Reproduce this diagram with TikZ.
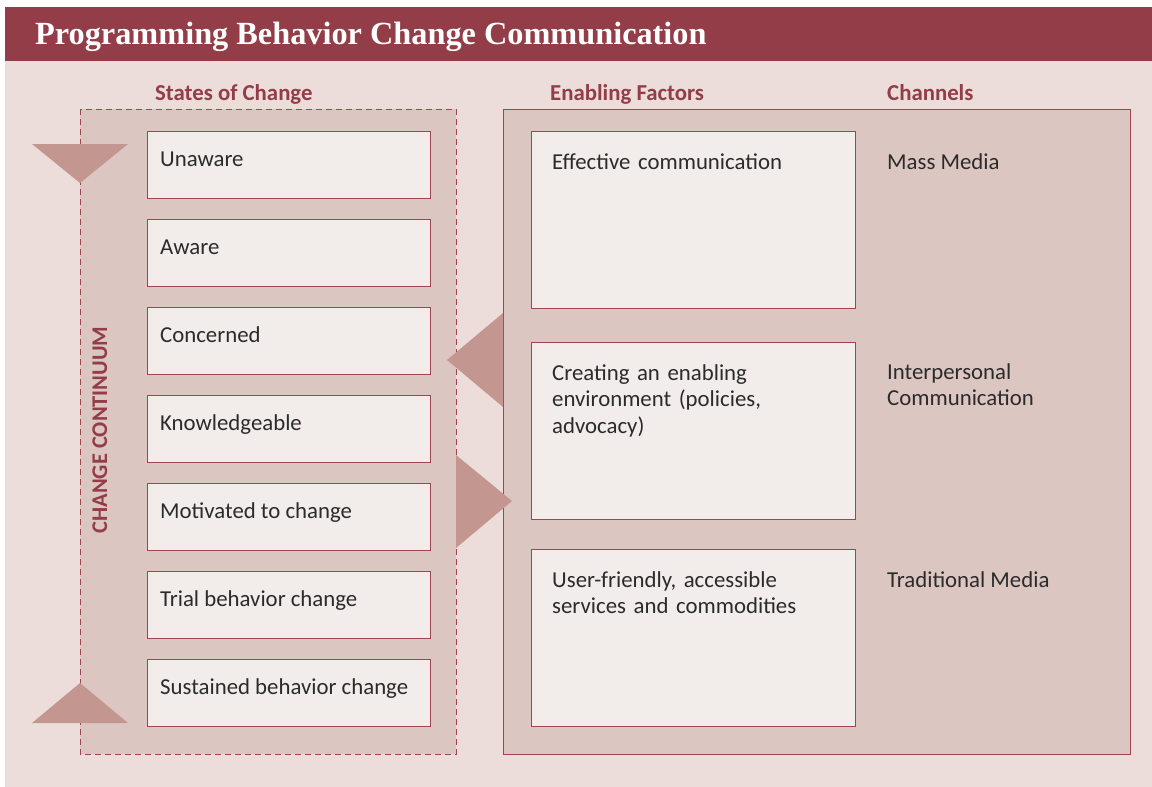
\documentclass[tikz,border=0pt]{standalone}
\usepackage{fontspec}
\setmainfont{Liberation Serif}
\newfontfamily\bodyfont{Carlito}
\usetikzlibrary{positioning,calc}

\definecolor{titlered}{HTML}{923D47}
\definecolor{panel}{HTML}{ECDDDA}
\definecolor{framefill}{HTML}{DCC6C2}
\definecolor{boxfill}{HTML}{F2ECEA}
\definecolor{boxline}{HTML}{A0444F}
\definecolor{wedge}{HTML}{C39790}
\definecolor{bodytext}{HTML}{2B2B2B}

\tikzset{
  bodytxt/.style={font=\bodyfont\fontsize{22.8}{26.5}\selectfont, text=bodytext, inner sep=0pt},
  headtxt/.style={font=\bodyfont\bfseries\fontsize{22.8}{26}\selectfont, text=titlered, inner sep=0pt, anchor=base west},
  statebox/.style={draw=boxline, fill=boxfill, line width=1pt, inner sep=0pt,
    minimum width=283pt, minimum height=67pt, anchor=north west,
    label={[bodytxt, anchor=base west, xshift=13pt, yshift=-35pt]north west:#1}},
  factorbox/.style={draw=boxline, fill=boxfill, line width=1pt, inner sep=0pt,
    minimum width=324pt, minimum height=177pt, anchor=north west,
    label={[bodytxt, anchor=base west, align=left, text width=300pt, xshift=21pt, yshift=-38pt]north west:#1}},
}

\begin{document}
\begin{tikzpicture}[x=1pt,y=-1pt]
  \useasboundingbox (0,0) rectangle (1152,787);
  % Background and title bar
  \fill[panel] (5,7) rectangle (1152,787);
  \fill[titlered] (5,7) rectangle (1152,61);
  \node[font=\bfseries\fontsize{32.3}{36}\selectfont, text=white, inner sep=0pt, anchor=base west]
    (title) at (35,45) {Programming Behavior Change Communication};

  % Column headers
  \node[headtxt] (hstates) at (155,100) {States of Change};
  \node[headtxt] (hfactors) at (550,100) {Enabling Factors};
  \node[headtxt] (hchannels) at (887,100) {Channels};

  % Frames
  \fill[framefill] (80,109) rectangle (456,754);
  \draw[boxline, line width=1pt, dash pattern=on 6pt off 4pt] (80,109) rectangle (456,754);
  \draw[boxline, line width=1pt, fill=framefill] (503,109) rectangle (1130,754);

  % Continuum wedges
  \fill[wedge] (32,144) -- (128,144) -- (80,183) -- cycle;
  \fill[wedge] (32,723) -- (128,723) -- (80,683) -- cycle;
  \fill[wedge] (503,313) -- (503,407) -- (447,360) -- cycle;
  \fill[wedge] (456,455) -- (456,548) -- (512,501) -- cycle;
  \node[headtxt, font=\bodyfont\bfseries\fontsize{22.4}{26}\selectfont, anchor=base, rotate=90]
    (continuum) at (107,430) {CHANGE CONTINUUM};

  % States of change
  \foreach \txt [count=\i] in {Unaware, Aware, Concerned, Knowledgeable,
      Motivated to change, Trial behavior change, Sustained behavior change}
    \node[statebox=\txt] (s\i) at (147,{131+88*(\i-1)}) {};

  % Enabling factors
  \node[factorbox={Effective communication}] (f1) at (531,131) {};
  \node[factorbox={Creating an enabling\\environment (policies,\\advocacy)}] (f2) at (531,342) {};
  \node[factorbox={User-friendly, accessible\\services and commodities}] (f3) at (531,549) {};

  % Channels
  \node[bodytxt, anchor=base west] (c1) at (887,169) {Mass Media};
  \node[bodytxt, anchor=base west, align=left, text width=230pt] (c2) at (887,379) {Interpersonal\\Communication};
  \node[bodytxt, anchor=base west] (c3) at (887,587) {Traditional Media};
\end{tikzpicture}
\end{document}
